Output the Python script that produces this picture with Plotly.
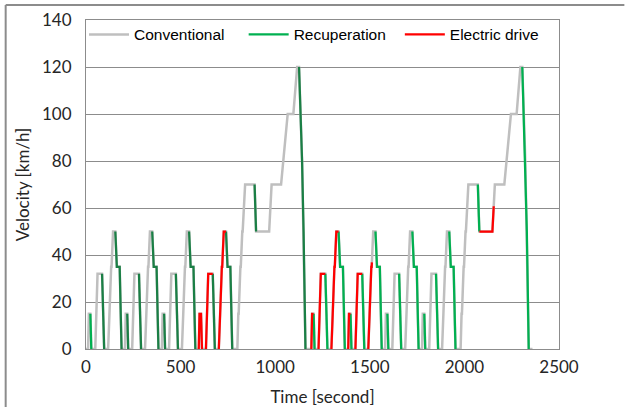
import numpy as np
import plotly.graph_objects as go

# ---- NEDC profile data ----
# ECE-15 urban sub-cycle: time [s] relative to sub-cycle start, speed [km/h]
ece_t = [0, 11, 15, 23, 25, 28, 49, 54, 56, 61, 85, 93, 96, 117, 122, 124, 133, 135, 143, 155, 163, 176, 178, 185, 188, 195]
ece_v = [0, 0, 15, 15, 10, 0, 0, 15, 15, 32, 32, 10, 0, 0, 15, 15, 35, 35, 50, 50, 35, 35, 35, 10, 0, 0]
# EUDC extra-urban sub-cycle
eudc_t = [0, 20, 25, 27, 36, 38, 46, 48, 61, 111, 119, 188, 201, 251, 286, 316, 336, 346, 362, 370, 380, 400]
eudc_v = [0, 0, 15, 15, 35, 35, 50, 50, 70, 70, 50, 50, 70, 70, 100, 100, 120, 120, 80, 50, 0, 0]
# start times of the sub-cycles (two NEDC cycles back to back)
ece_starts = [0, 195, 390, 585, 1180, 1375, 1570, 1765]
eudc_starts = [780, 1960]

# operating-mode intervals [start, end] in seconds
recup_dark = [[85, 96], [155, 188],
              [218, 223], [280, 291], [350, 383],
              [413, 418], [475, 486], [545, 578],
              [670, 681], [740, 773],
              [891, 899], [1126, 1160]]
recup_bright = [[23, 28],
                [1203, 1208], [1265, 1276], [1335, 1368],
                [1398, 1403], [1460, 1471], [1530, 1563],
                [1593, 1598], [1655, 1666], [1725, 1758],
                [1788, 1793], [1850, 1861], [1920, 1953],
                [2071, 2079], [2306, 2340]]
electric = [[596, 613], [634, 670], [702, 740],
            [1191, 1203], [1229, 1265], [1297, 1335],
            [1386, 1398], [1424, 1460], [1492, 1511],
            [2079, 2155]]

# ---- build the full speed profile ----
pts = []
for s in ece_starts:
    pts += [(s + t, v) for t, v in zip(ece_t, ece_v)]
for s in eudc_starts:
    pts += [(s + t, v) for t, v in zip(eudc_t, eudc_v)]
pts.sort(key=lambda p: p[0])
T = np.array([p[0] for p in pts], dtype=float)
V = np.array([p[1] for p in pts], dtype=float)
_, idx = np.unique(T, return_index=True)
T, V = T[idx], V[idx]


def segments(intervals):
    xs, ys = [], []
    for a, b in intervals:
        inner = (T > a) & (T < b)
        sx = [a] + list(T[inner]) + [b]
        sy = [float(np.interp(a, T, V))] + list(V[inner]) + [float(np.interp(b, T, V))]
        xs += sx + [None]
        ys += sy + [None]
    return xs, ys


fig = go.Figure()
fig.add_trace(go.Scatter(x=list(T), y=list(V), mode="lines", name="Conventional",
                         legend="legend",
                         line=dict(color="#bfbfbf", width=2.5)))
gx, gy = segments(recup_bright)
fig.add_trace(go.Scatter(x=gx, y=gy, mode="lines", name="Recuperation",
                         legend="legend2",
                         line=dict(color="#00b050", width=2.25)))
dx, dy = segments(recup_dark)
fig.add_trace(go.Scatter(x=dx, y=dy, mode="lines", name="Recuperation", showlegend=False,
                         line=dict(color="#1a7f45", width=2.25)))
rx, ry = segments(electric)
fig.add_trace(go.Scatter(x=rx, y=ry, mode="lines", name="Electric drive",
                         legend="legend3",
                         line=dict(color="#ff0000", width=2.25)))

axis_font = dict(family="Lato, Open Sans, sans-serif", size=17, color="#262626")
legend_font = dict(family="Liberation Sans, Arial, sans-serif", size=15.5, color="#000000")
L, R, TOP, BOT = 85.5, 559.5, 20, 349
W = R - L
H = BOT - TOP


def px2paper_x(px):
    return (px - L) / W


def py2paper_y(py):
    return (BOT - py) / H


def leg(xpx):
    return dict(orientation="h", x=px2paper_x(xpx), y=0.955, xanchor="left", yanchor="middle",
                font=legend_font, bgcolor="rgba(0,0,0,0)", itemwidth=40)


fig.update_layout(
    width=625, height=407,
    margin=dict(l=L, r=625 - R, t=TOP, b=407 - BOT, autoexpand=False),
    paper_bgcolor="white", plot_bgcolor="white",
    showlegend=True,
    legend=leg(83.5), legend2=leg(243.5), legend3=leg(400),
    xaxis=dict(range=[0, 2500], tickvals=[0, 500, 1000, 1500, 2000, 2500],
               showgrid=False, zeroline=False, showline=True, mirror=True,
               linecolor="#8c8c8c", linewidth=1, ticks="",
               ticklabelstandoff=3,
               tickfont=axis_font,
               title=dict(text="Time [second]", font=axis_font, standoff=14)),
    yaxis=dict(range=[0, 140], tickvals=[0, 20, 40, 60, 80, 100, 120, 140],
               showgrid=True, gridcolor="#8c8c8c", gridwidth=1,
               zeroline=False, showline=True, mirror=True,
               linecolor="#8c8c8c", linewidth=1, ticks="",
               ticklabelstandoff=10,
               tickfont=axis_font,
               title=dict(text="Velocity [km/h]", font=axis_font, standoff=8)),
)

# outer chart frame (top and left edges visible in the crop)
fig.add_shape(type="line", xref="paper", yref="paper",
              x0=px2paper_x(5), x1=px2paper_x(625), y0=py2paper_y(5), y1=py2paper_y(5),
              line=dict(color="#8c8c8c", width=2))
fig.add_shape(type="line", xref="paper", yref="paper",
              x0=px2paper_x(5), x1=px2paper_x(5), y0=py2paper_y(5), y1=py2paper_y(407),
              line=dict(color="#8c8c8c", width=2))

fig.write_html("out.html", config={"displayModeBar": False},
               post_script="document.body.style.margin='0px';")
